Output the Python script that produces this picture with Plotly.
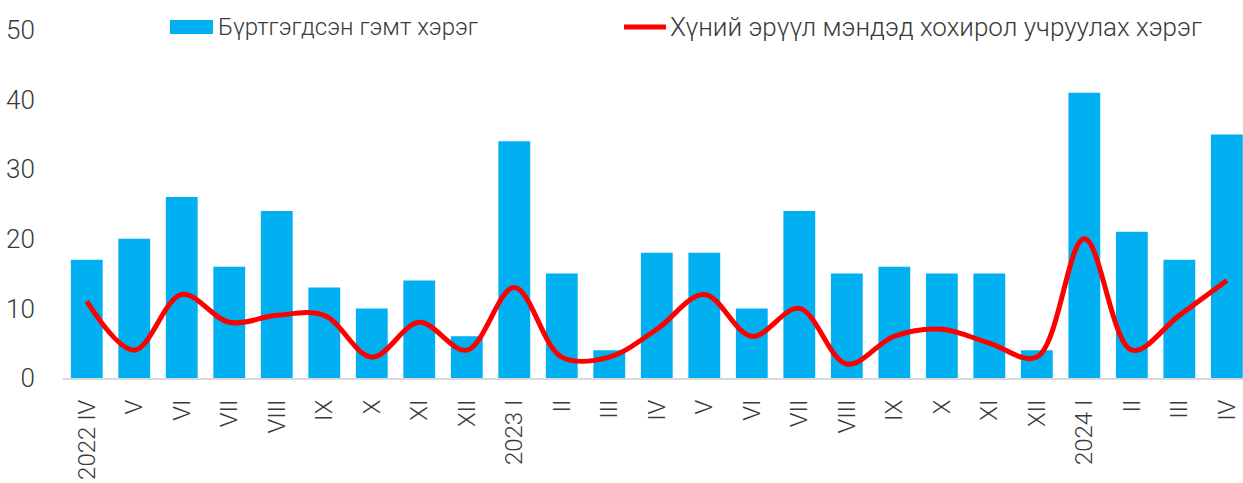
import plotly.graph_objects as go

categories = ["2022 IV", "V", "VI", "VII", "VIII", "IX", "X", "XI", "XII",
              "2023 I", "II", "III", "IV", "V", "VI", "VII", "VIII", "IX", "X", "XI", "XII",
              "2024 I", "II", "III", "IV"]
registered = [17, 20, 26, 16, 24, 13, 10, 14, 6, 34, 15, 4, 18, 18, 10, 24, 15, 16, 15, 15, 4, 41, 21, 17, 35]
health_harm = [11, 4, 12, 8, 9, 9, 3, 8, 4, 13, 3, 3, 7, 12, 6, 10, 2, 6, 7, 5, 3, 20, 4, 9, 14]

name_bar = "Бүртгэгдсэн гэмт хэрэг"
name_line = "Хүний эрүүл мэндэд хохирол учруулах хэрэг"

x_idx = list(range(len(categories)))

FONT = "Roboto"
TXT = "#3a3a3a"
BLUE = "#00B0F0"
RED = "#FF0000"

W, H = 1243, 483
ML, MR, MT, MB = 63, 0, 30, 105
PW, PH = W - ML - MR, H - MT - MB


def px_x(p):
    return (p - ML) / PW


def px_y(p):
    return (H - MB - p) / PH


fig = go.Figure()
fig.add_trace(go.Bar(x=x_idx, y=registered, name=name_bar, marker_color=BLUE,
                     marker_line_width=0))
fig.add_trace(go.Scatter(x=x_idx, y=health_harm, name=name_line, mode="lines",
                         line=dict(color=RED, width=5, shape="spline", smoothing=1.0)))

# custom legend (swatches + labels)
fig.add_shape(type="rect", xref="paper", yref="paper",
              x0=px_x(170), x1=px_x(213), y0=px_y(34), y1=px_y(20),
              fillcolor=BLUE, line_width=0)
fig.add_shape(type="line", xref="paper", yref="paper",
              x0=px_x(624), x1=px_x(666), y0=px_y(27), y1=px_y(27),
              line=dict(color=RED, width=5))
fig.add_annotation(text=name_bar, xref="paper", yref="paper", x=px_x(216), y=px_y(27),
                   xanchor="left", yanchor="middle", showarrow=False,
                   font=dict(family=FONT, size=24, color=TXT, weight=300))
fig.add_annotation(text=name_line, xref="paper", yref="paper", x=px_x(668), y=px_y(27),
                   xanchor="left", yanchor="middle", showarrow=False,
                   font=dict(family=FONT, size=26, color=TXT, weight=300))

fig.update_layout(
    width=W, height=H,
    margin=dict(l=ML, r=MR, t=MT, b=MB, autoexpand=False),
    plot_bgcolor="white", paper_bgcolor="white",
    bargap=0.33,
    font=dict(family=FONT, size=20, color=TXT, weight=300),
    showlegend=False,
    xaxis=dict(tickmode="array", tickvals=x_idx, ticktext=categories,
               tickangle=-90, range=[-0.5, 24.34], showgrid=False,
               showline=True, linecolor="#d9d9d9", linewidth=2,
               ticks="outside", ticklen=10, tickcolor="rgba(0,0,0,0)",
               tickfont=dict(family=FONT, size=24, color=TXT, weight=300)),
    yaxis=dict(range=[0, 50], tickvals=[0, 10, 20, 30, 40, 50], showgrid=False,
               zeroline=False, showline=False, ticks="outside", ticklen=22,
               tickcolor="rgba(0,0,0,0)",
               tickfont=dict(family=FONT, size=26, color=TXT, weight=300)),
)

fig.write_html("out.html", config={"displayModeBar": False},
               post_script="document.body.style.margin='0';document.body.style.overflow='hidden';")
